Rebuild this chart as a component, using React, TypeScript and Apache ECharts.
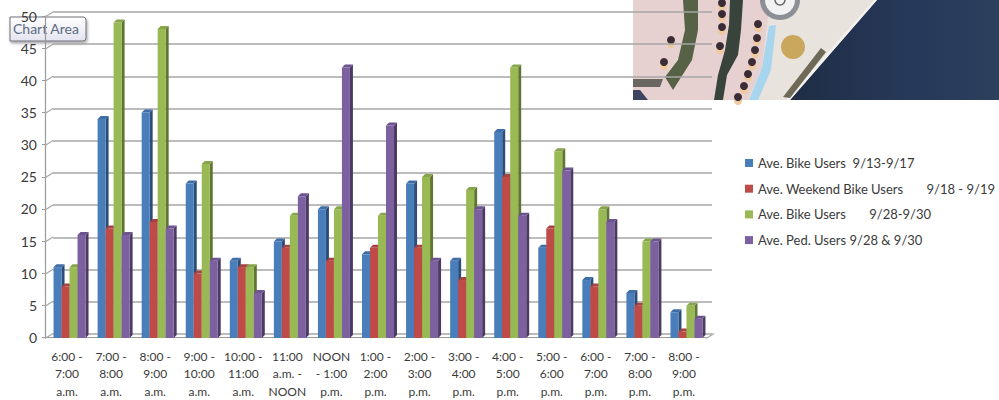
import React, { useEffect, useRef } from "react";
import * as echarts from "echarts";

const categories = [
  "6:00 -\n7:00\na.m.", "7:00 -\n8:00\na.m.", "8:00 -\n9:00\na.m.", "9:00 -\n10:00\na.m.",
  "10:00 -\n11:00\na.m.", "11:00\na.m. -\nNOON", "NOON\n- 1:00\np.m.", "1:00 -\n2:00\np.m.",
  "2:00 -\n3:00\np.m.", "3:00 -\n4:00\np.m.", "4:00 -\n5:00\np.m.", "5:00 -\n6:00\np.m.",
  "6:00 -\n7:00\np.m.", "7:00 -\n8:00\np.m.", "8:00 -\n9:00\np.m.",
];
const bikeSep13 = [11, 34, 35, 24, 12, 15, 20, 13, 24, 12, 32, 14, 9, 7, 4];
const weekendSep18 = [8, 17, 18, 10, 11, 14, 12, 14, 14, 9, 25, 17, 8, 5, 1];
const bikeSep28 = [11, 49, 48, 27, 11, 19, 20, 19, 25, 23, 42, 29, 20, 15, 5];
const pedSep28 = [16, 16, 17, 12, 7, 22, 42, 33, 12, 20, 19, 26, 18, 15, 3];
const yTicks = [0, 5, 10, 15, 20, 25, 30, 35, 40, 45, 50];

const NB = "\u00a0";
const seriesNames = [
  `Ave. Bike Users${NB}${NB}9/13-9/17`,
  `Ave. Weekend Bike Users${NB}${NB}${NB}${NB}${NB}${NB}${NB}9/18 - 9/19`,
  `Ave. Bike Users${NB}${NB}${NB}${NB}${NB}${NB}${NB}9/28-9/30`,
  `Ave. Ped. Users 9/28 & 9/30`,
];
const seriesValues = [bikeSep13, weekendSep18, bikeSep28, pedSep28];
const frontColors = ["#4a7ebb", "#be4b48", "#98b954", "#7d60a0"];
const sideColors = ["#2b4d77", "#772c2a", "#5f7530", "#4c3a63"];
const topColors = ["#3f6da6", "#a64240", "#86a54a", "#6d5390"];

const BAR_W = 8;
const DEPTH = 3;

const umbrellas = [
  [722, 3], [722, 14], [722, 27], [720, 46], [758, 24], [757, 38], [755, 50],
  [752, 62], [748, 74], [744, 86], [738, 97], [671, 40], [664, 62],
];

function mapGraphics(): any[] {
  const poly = (points: number[][], fill: any) => ({ type: "polygon", shape: { points }, style: { fill } });
  const items: any[] = [
    { type: "rect", shape: { x: 633, y: 0, width: 366, height: 100 }, style: { fill: "#e6d0d0" } },
    poly([[770, 0], [880, 0], [792, 100], [748, 100], [762, 68]], "#e8e3dc"),
    poly([[877, 0], [999, 0], [999, 100], [790, 100]], {
      type: "linear", x: 0, y: 0, x2: 1, y2: 0,
      colorStops: [{ offset: 0, color: "#1f2d45" }, { offset: 0.6, color: "#27395a" }, { offset: 1, color: "#2c3f5c" }],
    }),
    poly([[874, 0], [877, 0], [790, 100], [786, 100]], "#f4f2ee"),
    poly([[683, 0], [698, 0], [698, 30], [692, 60], [673, 90], [665, 77], [678, 60], [685, 30]], "#566145"),
    poly([[730, 0], [743, 0], [741, 30], [738, 55], [727, 75], [723, 100], [714, 100], [718, 75], [725, 50], [729, 25]], "#38433c"),
    poly([[769, 26], [776, 25], [771, 70], [758, 100], [749, 100], [762, 68]], "#a8d5ee"),
    poly([[633, 79], [663, 79], [660, 87], [633, 87]], "#6b6660"),
    poly([[821, 48], [826, 52], [790, 98], [783, 97]], "#6f6a58"),
    poly([[633, 90], [640, 90], [648, 100], [633, 100]], "#3c4460"),
    { type: "circle", shape: { cx: 793, cy: 47, r: 12 }, style: { fill: "#c9a75c" } },
    { type: "circle", shape: { cx: 780, cy: 0, r: 20 }, style: { fill: "#8c8f96" } },
    { type: "circle", shape: { cx: 780, cy: 0, r: 15 }, style: { fill: "#f2f2f2" } },
    { type: "circle", shape: { cx: 780, cy: 0, r: 5 }, style: { fill: "#f2f2f2", stroke: "#666", lineWidth: 1.5 } },
  ];
  umbrellas.forEach(([x, y]) => {
    items.push({ type: "circle", shape: { cx: x, cy: y + 4, r: 4 }, style: { fill: "#eec9a0" } });
    items.push({ type: "circle", shape: { cx: x, cy: y, r: 4 }, style: { fill: "#3a2c34" } });
  });
  return items;
}

export default function App() {
  const ref = useRef<HTMLDivElement>(null);
  useEffect(() => {
    const chart = echarts.init(ref.current!, undefined, { renderer: "svg" });
    const font = "Lato";
    const depthSeries = seriesValues.map((vals, i) => ({
      type: "custom",
      name: `depth${i}`,
      xAxisIndex: 2,
      yAxisIndex: 2,
      z: 1,
      silent: true,
      data: vals.map((v, c) => [c, v]),
      renderItem: (_: any, api: any) => {
        const top = api.coord([api.value(0), api.value(1)]);
        const base = api.coord([api.value(0), 0]);
        const x0 = top[0] - 2 * BAR_W + i * BAR_W;
        const x1 = x0 + BAR_W;
        return {
          type: "group",
          children: [
            { type: "polygon", shape: { points: [[x1, top[1]], [x1 + DEPTH, top[1] - DEPTH], [x1 + DEPTH, base[1] - DEPTH], [x1, base[1]]] }, style: { fill: sideColors[i] } },
            { type: "polygon", shape: { points: [[x0, top[1]], [x0 + DEPTH, top[1] - DEPTH], [x1 + DEPTH, top[1] - DEPTH], [x1, top[1]]] }, style: { fill: topColors[i] } },
          ],
        };
      },
    }));
    const barSeries = seriesValues.map((vals, i) => ({
      type: "bar",
      name: seriesNames[i],
      xAxisIndex: 2,
      yAxisIndex: 2,
      z: 2,
      barWidth: BAR_W,
      barGap: 0,
      data: vals,
      itemStyle: { color: frontColors[i] },
    }));
    const connectors = {
      type: "custom",
      name: "connectors",
      xAxisIndex: 1,
      yAxisIndex: 1,
      z: 1,
      silent: true,
      data: yTicks.map((v) => [0, v]),
      renderItem: (params: any, api: any) => {
        const y = api.coord([0, api.value(1)])[1];
        const x = params.coordSys.x;
        const right = params.coordSys.x + params.coordSys.width;
        const children: any[] = [
          { type: "line", shape: { x1: x, y1: y + 1, x2: x + 8, y2: y - 4 }, style: { stroke: "#a6a6a6", lineWidth: 1.2 } },
        ];
        if (api.value(1) === 0) {
          children.push({ type: "line", shape: { x1: right, y1: y + 1, x2: right + 8, y2: y - 4 }, style: { stroke: "#a6a6a6", lineWidth: 1.2 } });
        }
        return { type: "group", children };
      },
    };
    chart.setOption({
      animation: false,
      backgroundColor: "#ffffff",
      grid: [
        { left: 53, top: 12, width: 659, height: 322 },
        { left: 45, top: 16, width: 661, height: 322 },
        { left: 47.5, top: 16, width: 661, height: 322 },
      ],
      xAxis: [
        { type: "category", gridIndex: 0, data: categories, show: false },
        {
          type: "category", gridIndex: 1, data: categories, offset: 1,
          axisLine: { lineStyle: { color: "#9a9a9a", width: 1.2 } },
          axisTick: { length: 4, lineStyle: { color: "#9a9a9a" } },
          axisLabel: { interval: 0, color: "#3a3a3a", fontFamily: font, fontSize: 12, lineHeight: 17.5, margin: 9 },
        },
        { type: "category", gridIndex: 2, data: categories, show: false },
      ],
      yAxis: [
        {
          type: "value", gridIndex: 0, min: 0, max: 50, interval: 5,
          axisLine: { show: false }, axisTick: { show: false }, axisLabel: { show: false },
          splitLine: { lineStyle: { color: "#a6a6a6", width: 1.5 } },
        },
        {
          type: "value", gridIndex: 1, min: 0, max: 50, interval: 5,
          axisLine: { show: true, lineStyle: { color: "#9a9a9a", width: 1.2 } },
          axisTick: { show: true, length: 3, lineStyle: { color: "#9a9a9a" } },
          axisLabel: { color: "#3a3a3a", fontFamily: font, fontSize: 14, margin: 8, padding: [3, 0, 0, 0] },
          splitLine: { show: false },
        },
        { type: "value", gridIndex: 2, min: 0, max: 50, interval: 5, show: false, splitLine: { show: false } },
      ],
      legend: {
        orient: "vertical",
        left: 745,
        top: 155,
        padding: 0,
        itemWidth: 8,
        itemHeight: 8,
        itemGap: 9.7,
        icon: "rect",
        data: seriesNames.map((name, i) => ({ name, itemStyle: { color: frontColors[i] } })),
        textStyle: { color: "#3a3a3a", fontFamily: font, fontSize: 13, lineHeight: 16 },
      },
      series: [connectors, ...depthSeries, ...barSeries],
      graphic: [
        { type: "group", z: 50, children: mapGraphics() },
        {
          type: "group",
          z: 60,
          children: [
            {
              type: "rect",
              shape: { x: 10, y: 17, width: 76, height: 24, r: [0, 3, 3, 0] },
              style: {
                fill: { type: "linear", x: 0, y: 0, x2: 0, y2: 1, colorStops: [{ offset: 0, color: "#ffffff" }, { offset: 1, color: "#e3e4f0" }] },
                stroke: "#6f6f78",
                lineWidth: 1,
                shadowBlur: 3,
                shadowOffsetX: 1,
                shadowOffsetY: 2,
                shadowColor: "rgba(0,0,0,0.35)",
              },
            },
            {
              type: "text",
              x: 13,
              y: 21,
              style: { text: "Chart Area", fill: "#5c6b80", font: `14px ${font}` },
            },
          ],
        },
      ],
    });
    return () => chart.dispose();
  }, []);
  return <div ref={ref} style={{ position: "absolute", left: 0, top: 0, width: 999, height: 400 }} />;
}
